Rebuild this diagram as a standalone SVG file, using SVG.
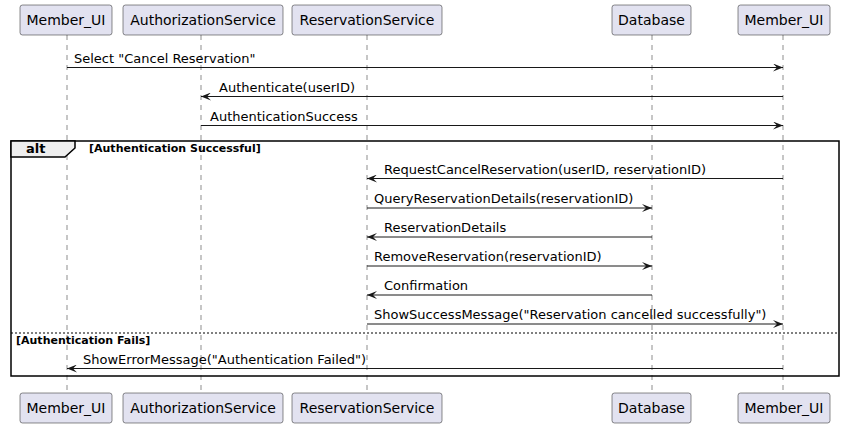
<svg xmlns="http://www.w3.org/2000/svg" width="846" height="427" viewBox="0 0 846 427">
<defs>
<style>
.pbox{fill:#E2E2F0;stroke:#181818;stroke-width:0.5}
.ptxt{font-family:"DejaVu Sans",sans-serif;font-size:14px;fill:#000;text-anchor:middle}
.life{stroke:#181818;stroke-width:0.5;stroke-dasharray:5,5}
.msg{stroke:#181818;stroke-width:1;fill:none}
.mtxt{font-family:"DejaVu Sans",sans-serif;font-size:13px;fill:#000}
.btxt{font-family:"DejaVu Sans",sans-serif;font-size:11px;font-weight:bold;fill:#000}
.frame{fill:none;stroke:#000;stroke-width:1.5}
</style>
<marker id="ah" viewBox="0 0 10 8" refX="10" refY="4" markerWidth="10" markerHeight="8" markerUnits="userSpaceOnUse" orient="auto">
<polygon points="0,0 10,4 0,8 4,4" fill="#181818"/>
</marker>
</defs>
<rect width="846" height="427" fill="#FFFFFF"/>
<g id="lifelines">
<line class="life" x1="67" y1="35" x2="67" y2="393"/>
<line class="life" x1="201" y1="35" x2="201" y2="393"/>
<line class="life" x1="367" y1="35" x2="367" y2="393"/>
<line class="life" x1="652" y1="35" x2="652" y2="393"/>
<line class="life" x1="783" y1="35" x2="783" y2="393"/>
</g>
<g id="alt-frame">
<rect class="frame" x="11" y="141" width="828" height="235"/>
<path d="M11,157 L65,157 L75,148 L75,141 L11,141 Z" fill="#EEEEEE" stroke="#000" stroke-width="1.5"/>
<text x="26" y="153" font-family="DejaVu Sans, sans-serif" font-size="13" font-weight="bold">alt</text>
<text class="btxt" x="89" y="152">[Authentication Successful]</text>
<line x1="11" y1="333" x2="839" y2="333" stroke="#000" stroke-width="1" stroke-dasharray="2,2"/>
<text class="btxt" x="16" y="344">[Authentication Fails]</text>
</g>
<g id="participant-member-ui-top"><rect class="pbox" x="20" y="5" width="92" height="30" rx="2.5"/><text class="ptxt" x="66" y="25">Member_UI</text></g>
<g id="participant-auth-top"><rect class="pbox" x="123" y="5" width="160" height="30" rx="2.5"/><text class="ptxt" x="203" y="25">AuthorizationService</text></g>
<g id="participant-res-top"><rect class="pbox" x="292" y="5" width="150" height="30" rx="2.5"/><text class="ptxt" x="367" y="25">ReservationService</text></g>
<g id="participant-db-top"><rect class="pbox" x="612" y="5" width="79" height="30" rx="2.5"/><text class="ptxt" x="651.5" y="25">Database</text></g>
<g id="participant-member-ui2-top"><rect class="pbox" x="738" y="5" width="92" height="30" rx="2.5"/><text class="ptxt" x="784" y="25">Member_UI</text></g>
<g id="participant-member-ui-bottom"><rect class="pbox" x="20" y="393" width="92" height="30" rx="2.5"/><text class="ptxt" x="66" y="413">Member_UI</text></g>
<g id="participant-auth-bottom"><rect class="pbox" x="123" y="393" width="160" height="30" rx="2.5"/><text class="ptxt" x="203" y="413">AuthorizationService</text></g>
<g id="participant-res-bottom"><rect class="pbox" x="292" y="393" width="150" height="30" rx="2.5"/><text class="ptxt" x="367" y="413">ReservationService</text></g>
<g id="participant-db-bottom"><rect class="pbox" x="612" y="393" width="79" height="30" rx="2.5"/><text class="ptxt" x="651.5" y="413">Database</text></g>
<g id="participant-member-ui2-bottom"><rect class="pbox" x="738" y="393" width="92" height="30" rx="2.5"/><text class="ptxt" x="784" y="413">Member_UI</text></g>
<g id="connectors">
<line class="msg" x1="67" y1="67.5" x2="783" y2="67.5" marker-end="url(#ah)"/>
<text class="mtxt" x="74" y="63">Select "Cancel Reservation"</text>
<line class="msg" x1="783" y1="96.5" x2="201" y2="96.5" marker-end="url(#ah)"/>
<text class="mtxt" x="219" y="92">Authenticate(userID)</text>
<line class="msg" x1="201" y1="125.5" x2="783" y2="125.5" marker-end="url(#ah)"/>
<text class="mtxt" x="210" y="121">AuthenticationSuccess</text>
<line class="msg" x1="783" y1="178.5" x2="367" y2="178.5" marker-end="url(#ah)"/>
<text class="mtxt" x="384" y="174">RequestCancelReservation(userID, reservationID)</text>
<line class="msg" x1="367" y1="208" x2="652" y2="208" marker-end="url(#ah)"/>
<text class="mtxt" x="374" y="203">QueryReservationDetails(reservationID)</text>
<line class="msg" x1="652" y1="237" x2="367" y2="237" marker-end="url(#ah)"/>
<text class="mtxt" x="384" y="232">ReservationDetails</text>
<line class="msg" x1="367" y1="266" x2="652" y2="266" marker-end="url(#ah)"/>
<text class="mtxt" x="374" y="261">RemoveReservation(reservationID)</text>
<line class="msg" x1="652" y1="295" x2="367" y2="295" marker-end="url(#ah)"/>
<text class="mtxt" x="384" y="290">Confirmation</text>
<line class="msg" x1="367" y1="324" x2="783" y2="324" marker-end="url(#ah)"/>
<text class="mtxt" x="374" y="319">ShowSuccessMessage("Reservation cancelled successfully")</text>
<line class="msg" x1="783" y1="368.5" x2="67" y2="368.5" marker-end="url(#ah)"/>
<text class="mtxt" x="83" y="364">ShowErrorMessage("Authentication Failed")</text>
</g>
</svg>
